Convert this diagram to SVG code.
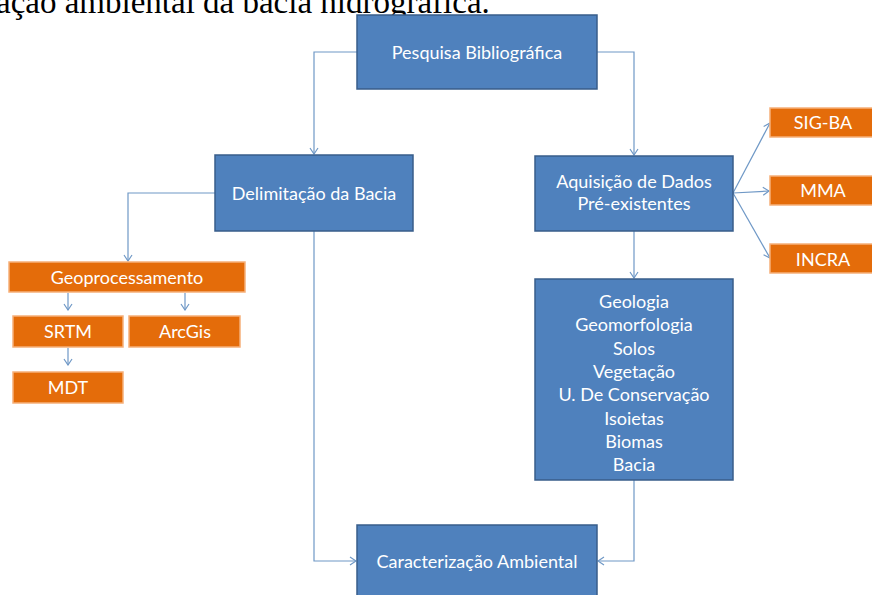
<svg xmlns="http://www.w3.org/2000/svg" width="872" height="595" viewBox="0 0 872 595">
<style>
.b{fill:#4F81BD;stroke:#385D8A;stroke-width:1.5}
.o{fill:#E46C0A;stroke:#F6B07A;stroke-width:1.5}
.t{font-family:Lato,"Open Sans",sans-serif;font-size:18px;fill:#fff;text-anchor:middle}
.c{fill:none;stroke:#6F98C6;stroke-width:1.2}
.cap{font-family:"Liberation Serif","Times New Roman",serif;font-size:33px;fill:#000}
</style>
<defs>
<marker id="a" markerWidth="8" markerHeight="10" refX="7" refY="5" orient="auto" markerUnits="userSpaceOnUse">
<path d="M1,1 L7,5 L1,9" fill="none" stroke="#6F98C6" stroke-width="1.2"/>
</marker>
</defs>
<rect width="872" height="595" fill="#fff"/>
<text class="cap" x="-4" y="13">ação ambiental da bacia hidrográfica.</text>
<g id="connectors">
<path class="c" d="M357,52 H314 V154" marker-end="url(#a)"/>
<path class="c" d="M597,52 H634 V155" marker-end="url(#a)"/>
<path class="c" d="M215,193 H128 V261" marker-end="url(#a)"/>
<path class="c" d="M314,231 V561 H356" marker-end="url(#a)"/>
<path class="c" d="M634,480 V561 H598" marker-end="url(#a)"/>
<path class="c" d="M634,231 V278" marker-end="url(#a)"/>
<path class="c" d="M733,193 L770,123" marker-end="url(#a)"/>
<path class="c" d="M733,193 L769,191" marker-end="url(#a)"/>
<path class="c" d="M733,193 L770,258" marker-end="url(#a)"/>
<path class="c" d="M68,293 V310" marker-end="url(#a)"/>
<path class="c" d="M185,293 V310" marker-end="url(#a)"/>
<path class="c" d="M68,348 V365" marker-end="url(#a)"/>
</g>
<g id="pesquisa"><rect class="b" x="357" y="15" width="240" height="74"/><text class="t" x="477" y="59">Pesquisa Bibliográfica</text></g>
<g id="delimitacao"><rect class="b" x="215" y="155" width="198" height="76"/><text class="t" x="314" y="200">Delimitação da Bacia</text></g>
<g id="aquisicao"><rect class="b" x="535" y="156" width="198" height="75"/><text class="t" x="634" y="188">Aquisição de Dados</text><text class="t" x="634" y="210">Pré-existentes</text></g>
<g id="sigba"><rect class="o" x="770" y="108" width="106" height="29"/><text class="t" x="823" y="129">SIG-BA</text></g>
<g id="mma"><rect class="o" x="770" y="176" width="106" height="29"/><text class="t" x="823" y="197">MMA</text></g>
<g id="incra"><rect class="o" x="770" y="244" width="106" height="29"/><text class="t" x="823" y="266">INCRA</text></g>
<g id="geoproc"><rect class="o" x="9" y="262" width="236" height="30"/><text class="t" x="127" y="284">Geoprocessamento</text></g>
<g id="srtm"><rect class="o" x="13" y="316" width="110" height="31"/><text class="t" x="68" y="338">SRTM</text></g>
<g id="arcgis"><rect class="o" x="129" y="316" width="111" height="31"/><text class="t" x="185" y="338">ArcGis</text></g>
<g id="mdt"><rect class="o" x="13" y="372" width="110" height="31"/><text class="t" x="68" y="394">MDT</text></g>
<g id="dados"><rect class="b" x="535" y="279" width="198" height="201"/>
<text class="t" x="634" y="308">Geologia</text>
<text class="t" x="634" y="331">Geomorfologia</text>
<text class="t" x="634" y="355">Solos</text>
<text class="t" x="634" y="378">Vegetação</text>
<text class="t" x="634" y="401">U. De Conservação</text>
<text class="t" x="634" y="425">Isoietas</text>
<text class="t" x="634" y="448">Biomas</text>
<text class="t" x="634" y="471">Bacia</text>
</g>
<g id="caracterizacao"><rect class="b" x="357" y="525" width="240" height="80"/><text class="t" x="477" y="568">Caracterização Ambiental</text></g>
</svg>
